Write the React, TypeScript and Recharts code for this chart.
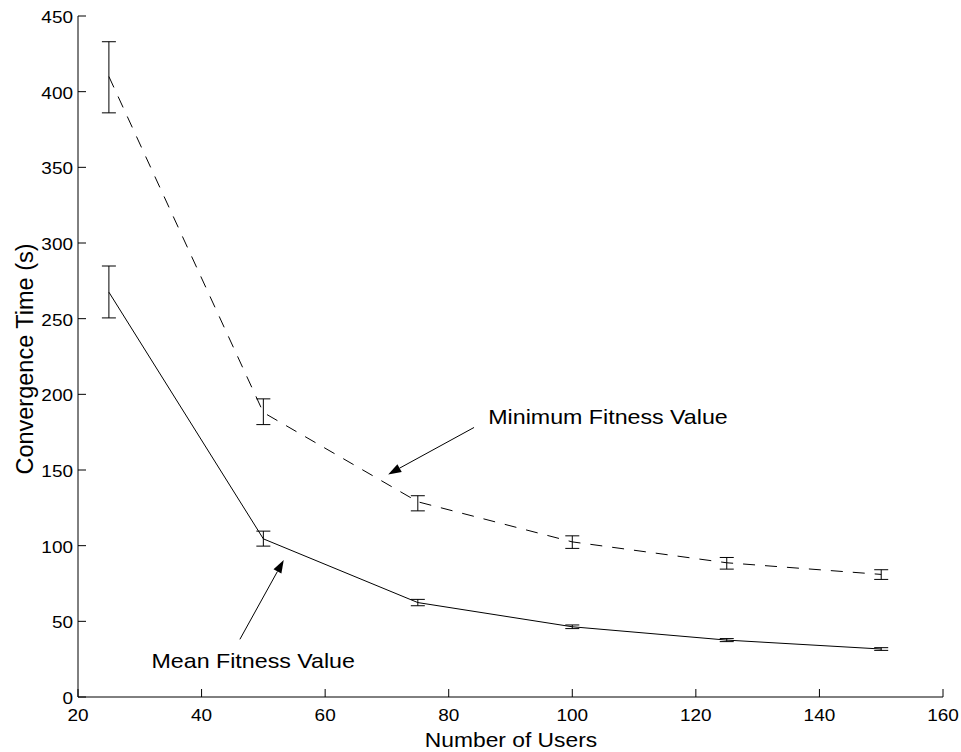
import { LineChart, Line, XAxis, YAxis, ErrorBar, ReferenceLine, ReferenceDot } from 'recharts'

const users = [25, 50, 75, 100, 125, 150]
const minFitness = [410, 188, 129, 102.5, 88.7, 81]
const minErrLow = [24, 8, 6, 4.3, 4.2, 3.3]
const minErrHigh = [23, 9, 4, 4, 3.5, 3.1]
const meanFitness = [267.5, 104.5, 62.4, 46.4, 37.6, 31.7]
const meanErrLow = [17, 4.8, 2.1, 1.2, 1, 0.9]
const meanErrHigh = [17.3, 5.1, 2.1, 1.2, 1, 0.9]

const xTicks = [20, 40, 60, 80, 100, 120, 140, 160]
const yTicks = [0, 50, 100, 150, 200, 250, 300, 350, 400, 450]

// annotation anchors, in data units
const minLabelAt = { x: 86.4, y: 180.3 }
const minArrow = [{ x: 84.1, y: 178.1 }, { x: 70.2, y: 147.1 }]
const meanLabelAt = { x: 31.9, y: 19 }
const meanArrow = [{ x: 46.2, y: 38.1 }, { x: 53.3, y: 90.5 }]

const data = users.map((u, i) => ({
  users: u,
  minFit: minFitness[i],
  minErr: [minErrLow[i], minErrHigh[i]],
  meanFit: meanFitness[i],
  meanErr: [meanErrLow[i], meanErrHigh[i]],
}))

const FONT = '"Liberation Sans", Arial, Helvetica, sans-serif'
const STRETCH = 1.15

function XTick({ x, y, payload }: any) {
  return (
    <g>
      <line x1={x} x2={x} y1={y} y2={y - 8} stroke="#000" strokeWidth={1} />
      <text
        transform={`translate(${x},${y + 23.5}) scale(${STRETCH},1)`}
        textAnchor="middle"
        fontFamily={FONT}
        fontSize={16.5}
        fill="#000"
      >
        {payload.value}
      </text>
    </g>
  )
}

function YTick({ x, y, payload }: any) {
  return (
    <g>
      <line x1={x} x2={x + 8} y1={y} y2={y} stroke="#000" strokeWidth={1} />
      <text
        transform={`translate(${x - 5},${y + 7}) scale(${STRETCH},1)`}
        textAnchor="end"
        fontFamily={FONT}
        fontSize={16.5}
        fill="#000"
      >
        {payload.value}
      </text>
    </g>
  )
}

function Arrow({ x1, y1, x2, y2 }: any) {
  const dx = x2 - x1
  const dy = y2 - y1
  const len = Math.sqrt(dx * dx + dy * dy)
  const ux = dx / len
  const uy = dy / len
  const bx = x2 - ux * 13
  const by = y2 - uy * 13
  const pts = `${x2},${y2} ${bx - uy * 4.5},${by + ux * 4.5} ${bx + uy * 4.5},${by - ux * 4.5}`
  return (
    <g>
      <line x1={x1} y1={y1} x2={bx} y2={by} stroke="#000" strokeWidth={1} />
      <polygon points={pts} fill="#000" />
    </g>
  )
}

function noteLabel(text: string) {
  return ({ viewBox }: any) => (
    <text
      transform={`translate(${viewBox.x},${viewBox.y}) scale(${STRETCH},1)`}
      fontFamily={FONT}
      fontSize={20.2}
      fill="#000"
    >
      {text}
    </text>
  )
}

export default function App() {
  return (
    <div style={{ position: 'absolute', left: 0, top: 0 }}>
      <LineChart width={961} height={752} data={data} margin={{ top: 16, right: 18, bottom: 0, left: 0 }}>
        <XAxis
          type="number"
          dataKey="users"
          domain={[20, 160]}
          ticks={xTicks}
          height={55}
          tickSize={0}
          tickMargin={0}
          tickLine={false}
          axisLine={{ stroke: '#000', strokeWidth: 1 }}
          tick={<XTick />}
          label={{
            content: () => (
              <text
                transform={`translate(511,746.5) scale(1.14,1)`}
                textAnchor="middle"
                fontFamily={FONT}
                fontSize={20}
                fill="#000"
              >
                Number of Users
              </text>
            ),
          }}
        />
        <YAxis
          type="number"
          domain={[0, 450]}
          ticks={yTicks}
          width={78}
          tickSize={0}
          tickMargin={0}
          tickLine={false}
          axisLine={{ stroke: '#000', strokeWidth: 1 }}
          tick={<YTick />}
          label={{
            content: () => (
              <text
                transform="translate(33,359) rotate(-90)"
                textAnchor="middle"
                fontFamily={FONT}
                fontSize={23.5}
                fill="#000"
              >
                Convergence Time (s)
              </text>
            ),
          }}
        />
        <Line
          type="linear"
          dataKey="minFit"
          stroke="#000"
          strokeWidth={1}
          strokeDasharray="12 10"
          dot={false}
          activeDot={false}
          isAnimationActive={false}
        >
          <ErrorBar dataKey="minErr" width={7} stroke="#000" strokeWidth={1} isAnimationActive={false} />
        </Line>
        <Line
          type="linear"
          dataKey="meanFit"
          stroke="#000"
          strokeWidth={1}
          dot={false}
          activeDot={false}
          isAnimationActive={false}
        >
          <ErrorBar dataKey="meanErr" width={7} stroke="#000" strokeWidth={1} isAnimationActive={false} />
        </Line>
        <ReferenceLine segment={minArrow} shape={<Arrow />} />
        <ReferenceLine segment={meanArrow} shape={<Arrow />} />
        <ReferenceDot x={minLabelAt.x} y={minLabelAt.y} r={0} fill="none" stroke="none" label={{ content: noteLabel('Minimum Fitness Value') }} />
        <ReferenceDot x={meanLabelAt.x} y={meanLabelAt.y} r={0} fill="none" stroke="none" label={{ content: noteLabel('Mean Fitness Value') }} />
      </LineChart>
    </div>
  )
}
